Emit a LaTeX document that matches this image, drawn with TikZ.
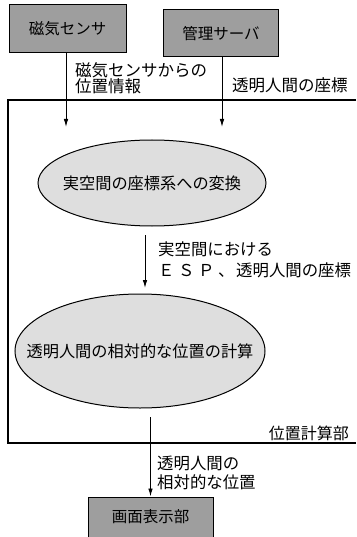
\documentclass[tikz,border=0pt]{standalone}
\usepackage{fontspec}
\setmainfont{Noto Sans CJK JP}
\usetikzlibrary{arrows.meta,shapes.geometric}
\definecolor{boxgray}{gray}{0.62}
\definecolor{ellgray}{gray}{0.87}
\tikzset{
  sbox/.style={draw=black, line width=1pt, fill=boxgray, inner sep=0pt, font=\fontsize{15.5}{18}\selectfont},
  proc/.style={ellipse, draw=black, line width=1pt, fill=ellgray, inner sep=0pt},
  ptext/.style={font=\fontsize{16.2}{18}\selectfont, inner sep=0pt},
  lbl/.style={anchor=west, align=left, inner sep=0pt, font=\fontsize{16.5}{16.5}\selectfont},
  flow/.style={line width=0.9pt, -{Latex[length=8pt,width=4.5pt]}},
  frame/.style={line width=1.2pt}
}
\newcommand{\wch}[1]{\makebox[20pt][l]{#1}}
\begin{document}
\begin{tikzpicture}[x=1pt,y=-1pt]
\useasboundingbox (0,0) rectangle (356,537);
% frame of position calculation unit
\draw[frame] (356,100) -- (8,100) -- (8,443) -- (356,443);
\node[anchor=east, inner sep=0pt, font=\fontsize{16}{18}\selectfont] (unit) at (349,433) {位置計算部};
% boxes
\node[sbox, minimum width=117, minimum height=48] (sensor) at (67.5,29) {磁気センサ};
\node[sbox, minimum width=115, minimum height=47] (server) at (221,33.5) {管理サーバ};
\node[sbox, minimum width=125, minimum height=40] (display) at (150.5,517) {画面表示部};
% ellipses
\node[proc, minimum width=228, minimum height=86,
      label={[ptext]center:実空間の座標系への変換}] (conv) at (152,183) {};
\node[proc, minimum width=250, minimum height=114,
      label={[ptext]center:透明人間の相対的な位置の計算}] (calc) at (140,351) {};
% free ends
\coordinate (e1) at (66,127);
\coordinate (e2) at (222,127);
\coordinate (s3) at (145,235);
\coordinate (e3) at (145,288);
\coordinate (s4) at (150.5,417);
% connectors
\draw[flow] (sensor.south -| e1) -- (e1);
\draw[flow] (server.south -| e2) -- (e2);
\draw[flow] (s3) -- (e3);
\draw[flow] (s4) -- (display.north);
% labels
\node[lbl] (l1) at (75,78) {磁気センサからの\\[0pt]位置情報};
\node[lbl] (l2) at (232,85) {透明人間の座標};
\node[lbl, font=\fontsize{16.4}{21}\selectfont] (l3) at (158,259.5) {実空間における\\\wch{Ｅ}\wch{Ｓ}\wch{Ｐ}\makebox[18pt][l]{、}透明人間の座標};
\node[lbl, font=\fontsize{16.4}{19}\selectfont] (l4) at (157,472.5) {透明人間の\\相対的な位置};
\end{tikzpicture}
\end{document}
